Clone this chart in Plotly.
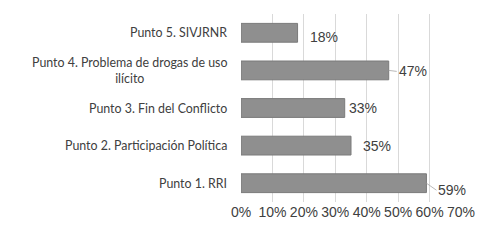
import plotly.graph_objects as go

categories = ["Punto 1. RRI", "Punto 2. Participación Política", "Punto 3. Fin del Conflicto",
              "Punto 4. Problema de drogas de uso<br>ilícito", "Punto 5. SIVJRNR"]
values = [0.59, 0.35, 0.33, 0.47, 0.18]
value_labels = ["59%", "35%", "33%", "47%", "18%"]
tick_vals = [0, 0.1, 0.2, 0.3, 0.4, 0.5, 0.6, 0.7]
tick_text = ["0%", "10%", "20%", "30%", "40%", "50%", "60%", "70%"]

# label placement style: (ax, ay, leader)
label_style = [(10, 7, True), (10, 0, False), (2, 0, False), (8, 1, True), (10, 4, False)]

fig = go.Figure(go.Bar(
    y=categories, x=values, orientation="h", width=0.5,
    marker=dict(color="#8f8f8f", line=dict(color="#7a7a7a", width=1)),
))

annotations = []
for cat, v, lab, (ax, ay, leader) in zip(categories, values, value_labels, label_style):
    if leader:
        annotations.append(dict(x=v, y=cat, xref="x", yref="y", text=lab, showarrow=True,
                                arrowhead=0, arrowwidth=0.8, arrowcolor="#a6a6a6",
                                ax=ax, ay=ay, xanchor="left", standoff=0,
                                font=dict(family="Liberation Sans", size=14, color="#404040")))
    else:
        annotations.append(dict(x=v, y=cat, xref="x", yref="y", text=lab, showarrow=False,
                                xanchor="left", xshift=ax, yshift=-ay,
                                font=dict(family="Liberation Sans", size=14, color="#404040")))
for cat in categories:
    annotations.append(dict(x=0, y=cat, xref="paper", yref="y", text=cat, showarrow=False,
                            xanchor="right", xshift=-12, align="center",
                            font=dict(family="Lato", size=12.4, color="#404040")))

fig.update_layout(
    width=494, height=240,
    margin=dict(l=241, r=33, t=14, b=38, autoexpand=False),
    paper_bgcolor="white", plot_bgcolor="white",
    showlegend=False,
    annotations=annotations,
    xaxis=dict(range=[0, 0.7], tickvals=tick_vals, ticktext=tick_text, automargin=False,
               showgrid=True, gridcolor="#d9d9d9", gridwidth=1, zeroline=False,
               showline=False, ticks="", ticklen=0,
               tickfont=dict(family="Liberation Sans", size=14, color="#404040")),
    yaxis=dict(showticklabels=False, showgrid=False, zeroline=False, showline=False,
               automargin=False),
)
fig.write_html("out.html", post_script="document.body.style.margin='0';",
               config={"displayModeBar": False})
